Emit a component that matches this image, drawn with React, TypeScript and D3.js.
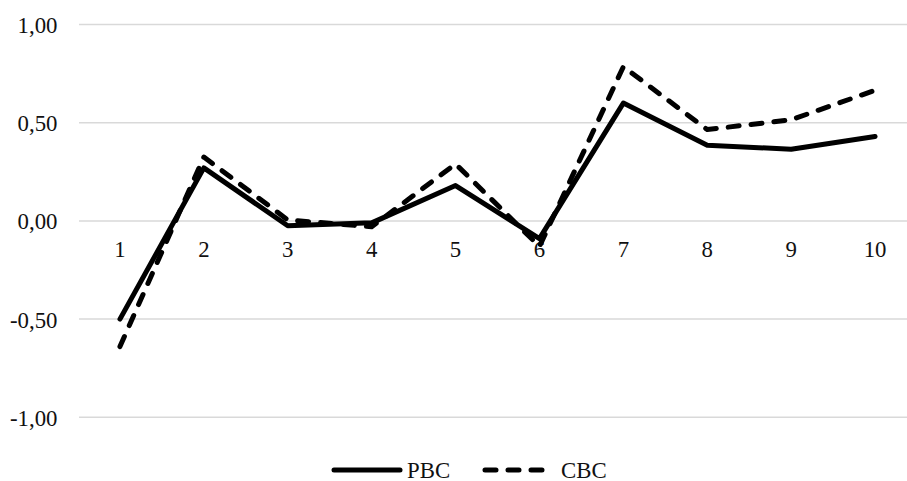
import React from "react";
import * as d3 from "d3";

const categories = ["1", "2", "3", "4", "5", "6", "7", "8", "9", "10"];
const pbc = [-0.5, 0.27, -0.025, -0.01, 0.18, -0.09, 0.6, 0.385, 0.365, 0.43];
const cbc = [-0.64, 0.325, 0.005, -0.03, 0.29, -0.13, 0.785, 0.465, 0.515, 0.665];
const yTicks = [1, 0.5, 0, -0.5, -1];

const W = 907;
const H = 481;
const font = "'Liberation Serif', 'Times New Roman', serif";
const fs = 22.8;

export default function App() {
  const x = d3.scaleBand<string>().domain(categories).range([78, 917]);
  const y = d3.scaleLinear().domain([-1, 1]).range([417.3, 24.5]);
  const cx = (c: string) => (x(c) as number) + x.bandwidth() / 2;
  const line = d3
    .line<number>()
    .x((_, i) => cx(categories[i]))
    .y((d) => y(d));
  const fmt = (v: number) => d3.format(".2f")(v).replace(".", ",").replace("−", "-");
  const dash = "11 12";
  return (
    <svg
      width={W}
      height={H}
      style={{ position: "absolute", left: 0, top: 0, background: "#fff" }}
    >
      {yTicks.map((t) => (
        <g key={t}>
          <line x1={79} x2={W} y1={y(t)} y2={y(t)} stroke="#d9d9d9" strokeWidth={1.5} />
          <text
            x={57.5}
            y={y(t) + 8.5}
            textAnchor="end"
            fontFamily={font}
            fontSize={fs}
            fill="#111"
          >
            {fmt(t)}
          </text>
        </g>
      ))}
      {categories.map((c) => (
        <text
          key={c}
          x={cx(c)}
          y={y(0) + 36}
          textAnchor="middle"
          fontFamily={font}
          fontSize={fs}
          fill="#111"
        >
          {c}
        </text>
      ))}
      <path d={line(pbc) as string} fill="none" stroke="#000" strokeWidth={5} strokeLinejoin="round" strokeLinecap="round" />
      <path
        d={line(cbc) as string}
        fill="none"
        stroke="#000"
        strokeWidth={5}
        strokeDasharray={dash}
        strokeLinejoin="round"
        strokeLinecap="round"
      />
      <g>
        <line x1={334} x2={400} y1={470} y2={470} stroke="#000" strokeWidth={5} strokeLinecap="round" />
        <text x={407} y={477.5} fontFamily={font} fontSize={fs} fill="#111">
          PBC
        </text>
        <line
          x1={485}
          x2={545}
          y1={470}
          y2={470}
          stroke="#000"
          strokeWidth={5}
          strokeDasharray={dash}
          strokeLinecap="round"
        />
        <text x={561} y={477.5} fontFamily={font} fontSize={fs} fill="#111">
          CBC
        </text>
      </g>
    </svg>
  );
}
